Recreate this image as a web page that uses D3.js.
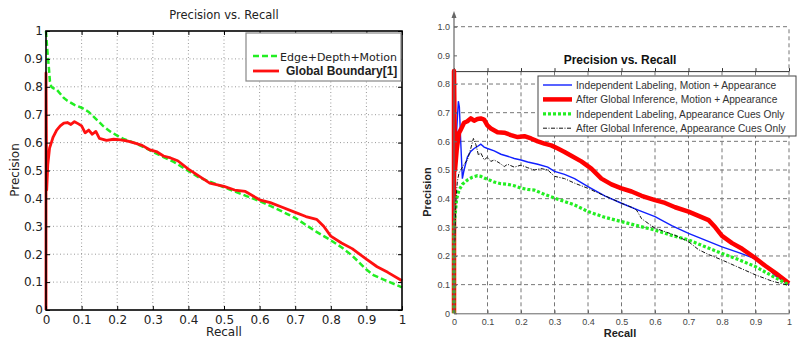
<!DOCTYPE html>
<html>
<head>
<meta charset="utf-8">
<script src="https://cdn.jsdelivr.net/npm/d3@7"></script>
<style>
  body { margin: 0; background: #fff; }
</style>
</head>
<body>
<svg id="chart" width="797" height="340"></svg>
<script>
// ---- tick values / labels
const ticks = [0, 0.1, 0.2, 0.3, 0.4, 0.5, 0.6, 0.7, 0.8, 0.9, 1];
const leftTickLabels = ['0', '0.1', '0.2', '0.3', '0.4', '0.5', '0.6', '0.7', '0.8', '0.9', '1'];
const rightXTickLabels = ['0', '0.1', '0.2', '0.3', '0.4', '0.5', '0.6', '0.7', '0.8', '0.9', '1'];
const rightYTickLabels = ['0', '0.1', '0.2', '0.3', '0.4', '0.5', '0.6', '0.7', '0.8', '0.9', '1.0'];

// ---- left chart series
const edgeRecall = [0, 0.002, 0.005, 0.008, 0.011, 0.015, 0.02, 0.03, 0.04, 0.05, 0.06, 0.08, 0.1, 0.12, 0.14, 0.16, 0.18, 0.2, 0.22, 0.25, 0.28, 0.3, 0.33, 0.36, 0.4, 0.43, 0.46, 0.5, 0.53, 0.56, 0.6, 0.63, 0.66, 0.7, 0.73, 0.76, 0.8, 0.83, 0.86, 0.88, 0.9, 0.92, 0.95, 0.98, 1.0];
const edgePrec = [1.0, 0.96, 0.91, 0.87, 0.82, 0.80, 0.795, 0.79, 0.775, 0.76, 0.75, 0.735, 0.725, 0.71, 0.685, 0.66, 0.64, 0.625, 0.612, 0.598, 0.58, 0.567, 0.548, 0.53, 0.498, 0.475, 0.46, 0.44, 0.425, 0.41, 0.39, 0.373, 0.355, 0.33, 0.305, 0.28, 0.25, 0.225, 0.195, 0.17, 0.145, 0.125, 0.108, 0.092, 0.081];

const gbRecall = [0, 0, 0.002, 0.005, 0.01, 0.015, 0.02, 0.03, 0.04, 0.05, 0.06, 0.07, 0.08, 0.09, 0.1, 0.11, 0.12, 0.13, 0.14, 0.15, 0.17, 0.19, 0.21, 0.23, 0.25, 0.27, 0.29, 0.31, 0.33, 0.35, 0.37, 0.4, 0.43, 0.46, 0.5, 0.53, 0.56, 0.6, 0.63, 0.66, 0.7, 0.73, 0.76, 0.78, 0.8, 0.83, 0.86, 0.9, 0.93, 0.96, 1.0];
const gbPrec = [0, 0.85, 0.43, 0.52, 0.58, 0.60, 0.62, 0.645, 0.66, 0.67, 0.672, 0.665, 0.675, 0.668, 0.66, 0.635, 0.645, 0.63, 0.64, 0.615, 0.608, 0.612, 0.61, 0.605, 0.598, 0.59, 0.575, 0.568, 0.552, 0.545, 0.535, 0.505, 0.48, 0.455, 0.443, 0.43, 0.425, 0.395, 0.385, 0.37, 0.35, 0.335, 0.325, 0.3, 0.265, 0.24, 0.22, 0.182, 0.155, 0.135, 0.105];

// ---- right chart series
const ilMaRecall = [0.002, 0.006, 0.01, 0.013, 0.016, 0.02, 0.025, 0.03, 0.04, 0.05, 0.06, 0.07, 0.08, 0.09, 0.1, 0.12, 0.14, 0.16, 0.18, 0.2, 0.22, 0.25, 0.28, 0.3, 0.33, 0.36, 0.4, 0.45, 0.5, 0.55, 0.6, 0.65, 0.7, 0.75, 0.8, 0.85, 0.9, 0.93, 0.96, 1.0];
const ilMaPrec = [0.35, 0.6, 0.68, 0.74, 0.72, 0.6, 0.47, 0.5, 0.545, 0.565, 0.575, 0.582, 0.59, 0.58, 0.575, 0.567, 0.555, 0.548, 0.54, 0.535, 0.528, 0.52, 0.51, 0.495, 0.485, 0.47, 0.442, 0.41, 0.384, 0.36, 0.337, 0.306, 0.279, 0.255, 0.232, 0.212, 0.19, 0.165, 0.13, 0.1];

const giMaRecall = [0, 0, 0.003, 0.008, 0.015, 0.02, 0.03, 0.04, 0.05, 0.06, 0.07, 0.08, 0.09, 0.1, 0.11, 0.13, 0.15, 0.17, 0.19, 0.21, 0.23, 0.25, 0.27, 0.29, 0.31, 0.33, 0.35, 0.38, 0.41, 0.44, 0.47, 0.5, 0.53, 0.56, 0.6, 0.63, 0.66, 0.7, 0.73, 0.76, 0.78, 0.8, 0.83, 0.86, 0.9, 0.93, 0.96, 1.0];
const giMaPrec = [0, 0.845, 0.5, 0.57, 0.63, 0.64, 0.665, 0.67, 0.68, 0.672, 0.678, 0.68, 0.676, 0.655, 0.645, 0.632, 0.63, 0.622, 0.615, 0.618, 0.61, 0.6, 0.592, 0.586, 0.575, 0.563, 0.55, 0.53, 0.505, 0.47, 0.45, 0.436, 0.425, 0.41, 0.395, 0.385, 0.37, 0.355, 0.34, 0.325, 0.3, 0.27, 0.245, 0.225, 0.192, 0.165, 0.14, 0.105];

const ilAcRecall = [0, 0, 0.003, 0.008, 0.015, 0.025, 0.04, 0.055, 0.07, 0.08, 0.09, 0.1, 0.12, 0.14, 0.16, 0.18, 0.2, 0.22, 0.24, 0.27, 0.3, 0.33, 0.36, 0.4, 0.45, 0.5, 0.55, 0.6, 0.65, 0.7, 0.75, 0.8, 0.85, 0.9, 0.95, 1.0];
const ilAcPrec = [0, 0.3, 0.34, 0.4, 0.43, 0.45, 0.465, 0.475, 0.48, 0.478, 0.472, 0.468, 0.458, 0.452, 0.45, 0.445, 0.437, 0.432, 0.43, 0.415, 0.402, 0.39, 0.378, 0.355, 0.335, 0.32, 0.305, 0.29, 0.272, 0.256, 0.232, 0.209, 0.187, 0.163, 0.13, 0.099];

const giAcRecall = [0.002, 0.006, 0.01, 0.015, 0.02, 0.03, 0.04, 0.05, 0.058, 0.065, 0.073, 0.08, 0.09, 0.1, 0.11, 0.12, 0.135, 0.15, 0.16, 0.18, 0.2, 0.22, 0.24, 0.26, 0.28, 0.3, 0.33, 0.36, 0.4, 0.43, 0.46, 0.5, 0.53, 0.545, 0.56, 0.6, 0.63, 0.66, 0.7, 0.73, 0.76, 0.8, 0.85, 0.9, 0.95, 1.0];
const giAcPrec = [0.25, 0.4, 0.46, 0.49, 0.5, 0.52, 0.535, 0.575, 0.61, 0.59, 0.552, 0.56, 0.535, 0.545, 0.53, 0.535, 0.525, 0.512, 0.52, 0.51, 0.517, 0.508, 0.5, 0.505, 0.5, 0.478, 0.47, 0.454, 0.436, 0.42, 0.405, 0.384, 0.37, 0.36, 0.33, 0.297, 0.285, 0.272, 0.25, 0.222, 0.205, 0.186, 0.16, 0.134, 0.112, 0.097];

const svg = d3.select('#chart');

// ================= LEFT CHART =================
const xL = d3.scaleLinear().domain([0, 1]).range([46, 402]);
const yL = d3.scaleLinear().domain([0, 1]).range([310, 31]);
const fontL = 'DejaVu Sans, sans-serif';
const left = svg.append('g');

// dotted grid
const inner = ticks.slice(1, -1);
left.append('g').selectAll('line.v').data(inner).enter().append('line')
  .attr('x1', d => xL(d)).attr('x2', d => xL(d))
  .attr('y1', yL(0)).attr('y2', yL(1))
  .attr('stroke', '#999').attr('stroke-width', 1).attr('stroke-dasharray', '1,2.5');
left.append('g').selectAll('line.h').data(inner).enter().append('line')
  .attr('y1', d => yL(d)).attr('y2', d => yL(d))
  .attr('x1', xL(0)).attr('x2', xL(1))
  .attr('stroke', '#999').attr('stroke-width', 1).attr('stroke-dasharray', '1,2.5');

const lineL = d3.line().x(d => xL(d[0])).y(d => yL(d[1]));

left.append('path')
  .datum(d3.zip(edgeRecall, edgePrec))
  .attr('d', lineL).attr('fill', 'none')
  .attr('stroke', '#22ee22').attr('stroke-width', 2.5).attr('stroke-dasharray', '6,3');

left.append('path')
  .datum(d3.zip(gbRecall, gbPrec))
  .attr('d', lineL).attr('fill', 'none')
  .attr('stroke', '#ff1010').attr('stroke-width', 2.8).attr('stroke-linejoin', 'round');

// axes
function styleAxis(g, font, size, color) {
  g.select('.domain').remove();
  g.selectAll('.tick line').attr('stroke', '#000');
  g.selectAll('.tick text').attr('font-family', font).attr('font-size', size).attr('fill', color);
}
left.append('g').attr('transform', 'translate(0,310)')
  .call(d3.axisBottom(xL).tickValues(ticks).tickFormat((d, i) => leftTickLabels[i]).tickSizeInner(-4).tickSizeOuter(0).tickPadding(5))
  .call(g => styleAxis(g, fontL, 12, '#222'));
left.append('g').attr('transform', 'translate(46,0)')
  .call(d3.axisLeft(yL).tickValues(ticks).tickFormat((d, i) => leftTickLabels[i]).tickSizeInner(-4).tickSizeOuter(0).tickPadding(3))
  .call(g => styleAxis(g, fontL, 12, '#222'));
left.append('g').attr('transform', 'translate(0,31)')
  .call(d3.axisTop(xL).tickValues(ticks).tickFormat('').tickSizeInner(-4).tickSizeOuter(0))
  .call(g => styleAxis(g, fontL, 12, '#222'));
left.append('g').attr('transform', 'translate(402,0)')
  .call(d3.axisRight(yL).tickValues(ticks).tickFormat('').tickSizeInner(-4).tickSizeOuter(0))
  .call(g => styleAxis(g, fontL, 12, '#222'));
left.append('rect')
  .attr('x', xL(0)).attr('y', yL(1)).attr('width', xL(1) - xL(0)).attr('height', yL(0) - yL(1))
  .attr('fill', 'none').attr('stroke', '#000').attr('stroke-width', 1.6);

left.append('text').attr('x', 224).attr('y', 19).attr('text-anchor', 'middle')
  .attr('font-family', fontL).attr('font-size', 11.5).attr('fill', '#222').text('Precision vs. Recall');
left.append('text').attr('x', 224).attr('y', 336).attr('text-anchor', 'middle')
  .attr('font-family', fontL).attr('font-size', 12).attr('fill', '#222').text('Recall');
left.append('text').attr('transform', 'translate(19,170) rotate(-90)').attr('text-anchor', 'middle')
  .attr('font-family', fontL).attr('font-size', 12).attr('fill', '#222').text('Precision');

// left legend
const legL = left.append('g');
legL.append('rect').attr('x', 246).attr('y', 33).attr('width', 155).attr('height', 48)
  .attr('fill', '#fff').attr('stroke', '#888').attr('stroke-width', 1.2);
legL.append('line').attr('x1', 253).attr('x2', 279).attr('y1', 56).attr('y2', 56)
  .attr('stroke', '#22ee22').attr('stroke-width', 2.5).attr('stroke-dasharray', '6,3');
legL.append('text').attr('x', 280).attr('y', 60.5)
  .attr('font-family', fontL).attr('font-size', 11).attr('fill', '#222').text('Edge+Depth+Motion');
legL.append('line').attr('x1', 253).attr('x2', 279).attr('y1', 71).attr('y2', 71)
  .attr('stroke', '#ff1010').attr('stroke-width', 2.8);
legL.append('text').attr('x', 286).attr('y', 75)
  .attr('font-family', 'Liberation Sans, Arial, sans-serif').attr('font-weight', 'bold')
  .attr('font-size', 12).attr('fill', '#222').text('Global Boundary[1]');

// ================= RIGHT CHART =================
const xR = d3.scaleLinear().domain([0, 1]).range([454, 789]);
const yR = d3.scaleLinear().domain([0, 1]).range([313.3, 26.7]);
const fontR = 'Liberation Sans, Arial, sans-serif';
const right = svg.append('g');
const topCut = yR(0.845);

// dashed grid
right.append('g').selectAll('line').data(ticks.slice(1)).enter().append('line')
  .attr('x1', d => xR(d)).attr('x2', d => xR(d))
  .attr('y1', yR(0)).attr('y2', d => d === 1 ? yR(1) : topCut)
  .attr('stroke', '#777').attr('stroke-width', 1).attr('stroke-dasharray', '4,3');
right.append('g').selectAll('line').data(ticks.filter(d => d > 0 && Math.abs(d - 0.9) > 1e-6)).enter().append('line')
  .attr('y1', d => yR(d)).attr('y2', d => yR(d))
  .attr('x1', xR(0)).attr('x2', xR(1))
  .attr('stroke', '#777').attr('stroke-width', 1).attr('stroke-dasharray', '4,3');

// the upper axes edge with small ticks
right.append('g').attr('transform', `translate(0,${topCut})`)
  .call(d3.axisTop(xR).tickValues(ticks).tickFormat('').tickSizeInner(3).tickSizeOuter(0))
  .call(g => {
    g.select('.domain').attr('stroke', '#333');
    g.selectAll('.tick line').attr('stroke', '#333');
  });

const lineR = d3.line().x(d => xR(d[0])).y(d => yR(d[1]));
right.append('path').datum(d3.zip(ilMaRecall, ilMaPrec)).attr('d', lineR).attr('fill', 'none')
  .attr('stroke', '#1020ff').attr('stroke-width', 1.4);
right.append('path').datum(d3.zip(giMaRecall, giMaPrec)).attr('d', lineR).attr('fill', 'none')
  .attr('stroke', '#ff0000').attr('stroke-width', 4.5).attr('stroke-linejoin', 'round');
right.append('path').datum(d3.zip(ilAcRecall, ilAcPrec)).attr('d', lineR).attr('fill', 'none')
  .attr('stroke', '#22ee22').attr('stroke-width', 3.2).attr('stroke-dasharray', '3,2');
right.append('path').datum(d3.zip(giAcRecall, giAcPrec)).attr('d', lineR).attr('fill', 'none')
  .attr('stroke', '#111').attr('stroke-width', 1).attr('stroke-dasharray', '4,1.5,1,1.5');

// axes
right.append('g').attr('transform', `translate(0,${yR(0)})`)
  .call(d3.axisBottom(xR).tickValues(ticks).tickFormat((d, i) => rightXTickLabels[i]).tickSizeInner(-3).tickSizeOuter(0).tickPadding(5))
  .call(g => {
    g.select('.domain').attr('stroke', '#666');
    g.selectAll('.tick line').attr('stroke', '#666');
    g.selectAll('.tick text').attr('font-family', fontR).attr('font-size', 9).attr('fill', '#444');
  });
right.append('g').attr('transform', `translate(${xR(0)},0)`)
  .call(d3.axisLeft(yR).tickValues(ticks).tickFormat((d, i) => rightYTickLabels[i]).tickSizeInner(-3).tickSizeOuter(0).tickPadding(4))
  .call(g => {
    g.select('.domain').remove();
    g.selectAll('.tick line').attr('stroke', '#666');
    g.selectAll('.tick text').attr('font-family', fontR).attr('font-size', 9).attr('fill', '#444');
  });
right.append('line').attr('x1', xR(0)).attr('x2', xR(0)).attr('y1', yR(0)).attr('y2', 15)
  .attr('stroke', '#666').attr('stroke-width', 1.2);
right.append('path').attr('d', `M${xR(0)},11 L${xR(0) - 2.5},18 L${xR(0) + 2.5},18 Z`).attr('fill', '#666');

right.append('text').attr('x', 620).attr('y', 64).attr('text-anchor', 'middle')
  .attr('font-family', fontR).attr('font-weight', 'bold').attr('font-size', 12).attr('fill', '#111')
  .text('Precision vs. Recall');
right.append('text').attr('x', 620).attr('y', 337).attr('text-anchor', 'middle')
  .attr('font-family', fontR).attr('font-weight', 'bold').attr('font-size', 11).attr('fill', '#222')
  .text('Recall');
right.append('text').attr('transform', 'translate(431,192) rotate(-90)').attr('text-anchor', 'middle')
  .attr('font-family', fontR).attr('font-weight', 'bold').attr('font-size', 11).attr('fill', '#222')
  .text('Precision');

// right legend
const legendNames = [
  'Independent Labeling, Motion + Appearance',
  'After Global Inference, Motion + Appearance',
  'Independent Labeling, Appearance Cues Only',
  'After Global Inference, Appearance Cues Only'
];
const legendColors = ['#1020ff', '#ff0000', '#22ee22', '#111'];
const legendWidths = [1.4, 4.5, 3.2, 1];
const legendDash = [null, null, '3,2', '4,1.5,1,1.5'];
const legR = right.append('g');
legR.append('rect').attr('x', 538).attr('y', 76).attr('width', 258).attr('height', 60)
  .attr('fill', '#fff').attr('stroke', '#444').attr('stroke-width', 1);
const items = legR.selectAll('g.item').data(legendNames).enter().append('g')
  .attr('transform', (d, i) => `translate(0,${85 + i * 14.4})`);
items.append('line').attr('x1', 543).attr('x2', 572).attr('y1', 0).attr('y2', 0)
  .attr('stroke', (d, i) => legendColors[i]).attr('stroke-width', (d, i) => legendWidths[i])
  .attr('stroke-dasharray', (d, i) => legendDash[i]);
items.append('text').attr('x', 576).attr('y', 3.8)
  .attr('font-family', fontR).attr('font-size', 10.2).attr('fill', '#333')
  .text(d => d);
</script>
</body>
</html>
